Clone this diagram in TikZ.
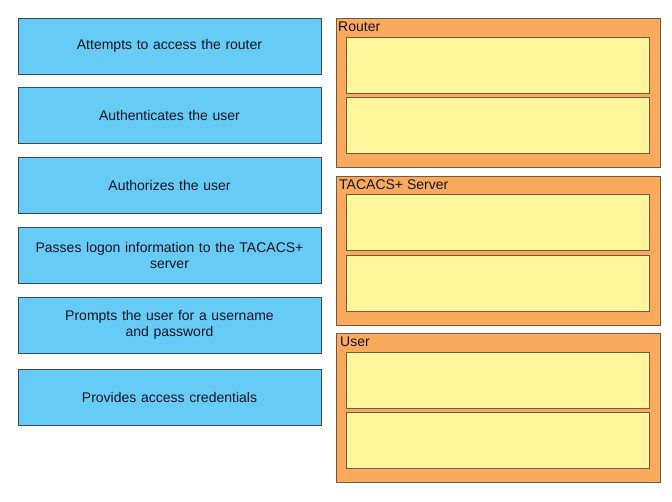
\documentclass[tikz,border=0pt]{standalone}
\usepackage{fontspec}
\setmainfont{Liberation Sans}
\definecolor{celeste}{RGB}{102,204,245}
\definecolor{bordoblu}{RGB}{55,75,90}
\definecolor{arancio}{RGB}{250,170,92}
\definecolor{bordoarancio}{RGB}{115,90,65}
\definecolor{giallo}{RGB}{255,245,155}
\definecolor{testo}{RGB}{20,20,35}
\tikzset{
  bluebox/.style={draw=bordoblu,fill=celeste,line width=0.9pt,minimum width=303pt,minimum height=56pt,
    inner sep=0pt,align=center,text width=295pt,font=\fontsize{14}{16}\selectfont,text=testo},
  panel/.style={draw=bordoarancio,fill=arancio,line width=0.9pt,minimum width=324pt,minimum height=149pt,inner sep=0pt},
  slot/.style={draw=bordoarancio,fill=giallo,line width=0.9pt,minimum width=303pt,minimum height=56pt,inner sep=0pt},
  paneltitle/.style={anchor=west,inner sep=0pt,font=\fontsize{14}{16}\selectfont,text=testo}
}
\begin{document}
\begin{tikzpicture}[x=1pt,y=-1pt]
        \useasboundingbox (0,0) rectangle (672,501);
        \fill[white] (0,0) rectangle (672,501);
        %scelte
        \node[bluebox] (attempts) at (169.5,46) {Attempts to access the router};
        \node[bluebox] (authent) at (169.5,115) {Authenticates the user};
        \node[bluebox] (authoriz) at (169.5,185) {Authorizes the user};
        \node[bluebox] (passes) at (169.5,255) {Passes logon information to the TACACS+\\server};
        \node[bluebox] (prompts) at (169.5,325) {Prompts the user for a username\\and password};
        \node[bluebox] (provides) at (169.5,397) {Provides access credentials};
        %pannelli
        \node[panel] (router) at (498,92.5) {};
        \node[panel] (tacacs) at (498,250.5) {};
        \node[panel] (user) at (498,408) {};
        \node[paneltitle] (routertitle) at (338,27) {Router};
        \node[paneltitle] (tacacstitle) at (339,185) {TACACS+ Server};
        \node[paneltitle] (usertitle) at (340,342) {User};
        %caselle
        \node[slot] (routerA) at (497.5,65) {};
        \node[slot] (routerB) at (497.5,125.5) {};
        \node[slot] (tacacsA) at (497.5,222) {};
        \node[slot] (tacacsB) at (497.5,283) {};
        \node[slot] (userA) at (497.5,380) {};
        \node[slot] (userB) at (497.5,440) {};
\end{tikzpicture}
\end{document}
